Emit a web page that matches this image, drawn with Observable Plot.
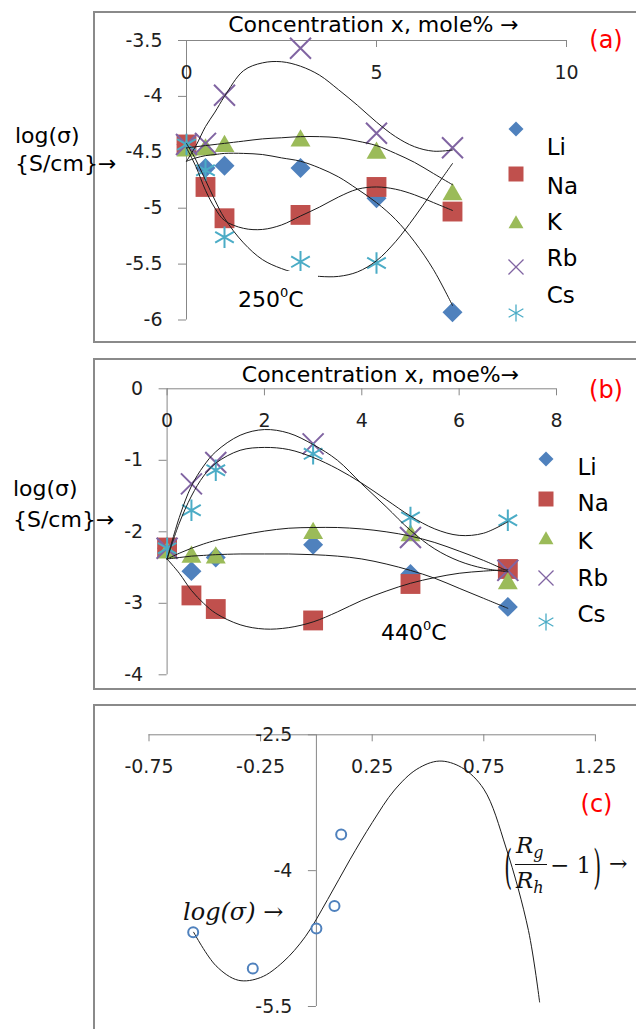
<!DOCTYPE html>
<html><head><meta charset="utf-8">
<script src="https://cdn.jsdelivr.net/npm/d3@7"></script>
<script src="https://cdn.jsdelivr.net/npm/@observablehq/plot@0.6"></script>
<style>
html,body{margin:0;padding:0;background:#fff;}
#root{position:relative;width:636px;height:1029px;overflow:hidden;font-family:"DejaVu Sans",sans-serif;color:#000;}
.frame{position:absolute;border:2px solid #8a8a8a;box-sizing:border-box;}
.t{position:absolute;white-space:nowrap;line-height:1;}
.mk{position:absolute;overflow:visible;}
</style></head><body><div id="root"></div>
<script>
// ---------- series ----------
const seriesNames = ["Li","Na","K","Rb","Cs"];
const seriesColors = ["#4F81BD","#C0504D","#9BBB59","#8064A2","#4BACC6"];
const seriesSymbols = ["diamond2","square","triangle","times","asterisk"];

// ---------- panel (a) 250 C ----------
const concA = [0, 0.5, 1, 3, 5, 7];
const liA = [-4.43, -4.64, -4.62, -4.64, -4.91, -5.93];
const naA = [-4.43, -4.81, -5.09, -5.06, -4.81, -5.03];
const kA  = [-4.46, -4.45, -4.42, -4.37, -4.48, -4.85];
const rbA = [-4.43, -4.42, -3.99, -3.57, -4.33, -4.46];
const csA = [-4.43, -4.66, -5.26, -5.48, -5.49, null];
const trendXA = [0, 0.25, 0.5, 0.75, 1, 1.5, 2, 2.5, 3, 3.5, 4, 4.5, 5, 5.5, 6, 6.5, 7];
const liTrendA = [-4.58,-4.55,-4.53,-4.52,-4.51,-4.51,-4.52,-4.55,-4.58,-4.64,-4.72,-4.83,-4.95,-5.10,-5.30,-5.55,-5.87];
const naTrendA = [-4.46,-4.63,-4.84,-5.00,-5.11,-5.18,-5.19,-5.15,-5.07,-4.99,-4.90,-4.83,-4.81,-4.83,-4.88,-4.95,-5.02];
const kTrendA  = [-4.46,-4.45,-4.44,-4.43,-4.42,-4.40,-4.38,-4.37,-4.36,-4.36,-4.37,-4.40,-4.44,-4.51,-4.59,-4.69,-4.79];
const rbTrendA = [-4.58,-4.44,-4.27,-4.14,-4.00,-3.77,-3.70,-3.69,-3.73,-3.81,-3.94,-4.08,-4.23,-4.36,-4.45,-4.49,-4.48];
const csTrendA = [-4.42,-4.57,-4.75,-4.93,-5.09,-5.31,-5.46,-5.54,-5.59,-5.61,-5.61,-5.57,-5.47,-5.30,-5.08,-4.84,-4.60];
const xTicksA = [0, 5, 10];
const yTicksA = [-3.5, -4, -4.5, -5, -5.5, -6];

// ---------- panel (b) 440 C ----------
const concB = [0, 0.5, 1, 3, 5, 7];
const liB = [-2.23, -2.55, -2.36, -2.18, -2.59, -3.05];
const naB = [-2.22, -2.89, -3.08, -3.24, -2.73, -2.52];
const kB  = [-2.25, -2.31, -2.32, -1.98, -2.01, -2.68];
const rbB = [-2.23, -1.33, -1.03, -0.77, -2.08, -2.54];
const csB = [-2.23, -1.70, -1.14, -0.91, -1.80, -1.84];
const trendXB = [0, 0.25, 0.5, 0.75, 1, 1.5, 2, 2.5, 3, 3.5, 4, 4.5, 5, 5.5, 6, 6.5, 7];
const liTrendB = [-2.38,-2.36,-2.34,-2.33,-2.32,-2.31,-2.31,-2.31,-2.32,-2.34,-2.38,-2.45,-2.54,-2.65,-2.79,-2.93,-3.07];
const naTrendB = [-2.38,-2.58,-2.82,-3.00,-3.14,-3.30,-3.36,-3.34,-3.26,-3.12,-2.96,-2.83,-2.72,-2.64,-2.58,-2.55,-2.53];
const kTrendB  = [-2.38,-2.30,-2.23,-2.17,-2.12,-2.05,-1.99,-1.95,-1.94,-1.94,-1.96,-2.00,-2.06,-2.15,-2.27,-2.40,-2.55];
const rbTrendB = [-2.38,-1.80,-1.36,-1.08,-0.88,-0.65,-0.57,-0.62,-0.78,-1.00,-1.33,-1.65,-1.98,-2.24,-2.41,-2.51,-2.56];
const csTrendB = [-2.38,-1.88,-1.50,-1.22,-1.04,-0.86,-0.82,-0.85,-0.96,-1.12,-1.32,-1.55,-1.78,-1.96,-2.05,-2.02,-1.86];
const xTicksB = [0, 2, 4, 6, 8];
const yTicksB = [0, -1, -2, -3, -4];

// ---------- panel (c) ----------
const ratioC = [-0.552, -0.285, 0.0, 0.081, 0.111];
const logSigmaC = [-4.68, -5.08, -4.64, -4.39, -3.60];
const trendXC = [-0.55,-0.45,-0.35,-0.25,-0.15,-0.05,0.05,0.15,0.25,0.35,0.45,0.55,0.65,0.75,0.85,0.95,1.0];
const trendC  = [-4.68,-5.05,-5.21,-5.18,-5.01,-4.73,-4.32,-3.88,-3.47,-3.11,-2.88,-2.79,-2.86,-3.10,-3.75,-4.66,-5.45];
const xTicksC = [-0.75, -0.25, 0.25, 0.75, 1.25];
const yTicksC = [-2.5, -4, -5.5];

// ---------- helpers ----------
const root = document.getElementById("root");
const axisColor = "#878787";
const tickColor = "#1f1f1f";
const markerR = [9.0, 11.2, 7.4, 9.6, 10.2];

function rowsFrom(xs, arrays) {
  return arrays.flatMap((arr, i) => arr.map((v, j) => ({series: seriesNames[i], x: xs[j], y: v})))
               .filter(d => d.y != null);
}
function axisMarks(xTicks, yTicks, yTop) {
  return [
    Plot.ruleY([yTop], {stroke: axisColor, strokeWidth: 1}),
    Plot.ruleX([0], {stroke: axisColor, strokeWidth: 1}),
    Plot.ruleX(xTicks, {x: d => d, y1: () => yTop, y2: () => yTop, insetBottom: -7, stroke: axisColor}),
    Plot.ruleY(yTicks, {y: d => d, x1: () => 0, x2: () => 0, insetLeft: -8, stroke: axisColor}),
    Plot.text(xTicks, {x: d => d, y: () => yTop, text: d => String(d), dy: 32, fontSize: 19, fill: tickColor}),
    Plot.text(yTicks, {x: () => 0, y: d => d, text: d => String(d), textAnchor: "end", dx: -24, fontSize: 19, fill: tickColor})
  ];
}
function seriesMarks(points, trends) {
  const dots = seriesNames.map((name, i) => {
    const stroked = i >= 3;
    return Plot.dot(points.filter(d => d.series === name), {
      x: "x", y: "y", symbol: seriesSymbols[i], r: markerR[i],
      fill: stroked ? "none" : seriesColors[i],
      stroke: stroked ? seriesColors[i] : "none",
      strokeWidth: 2, dy: i === 2 ? 3 : 0
    });
  });
  return [...dots,
    Plot.line(trends, {x: "x", y: "y", z: "series", curve: "catmull-rom", stroke: "#1c1c1c", strokeWidth: 1})];
}
function place(svg, top) {
  svg.style.position = "absolute";
  svg.style.left = "0px";
  svg.style.top = top + "px";
  root.appendChild(svg);
}
function frame(left, top, w, h) {
  const d = document.createElement("div");
  d.className = "frame";
  Object.assign(d.style, {left: left + "px", top: top + "px", width: w + "px", height: h + "px"});
  root.appendChild(d);
}
function txt(html, left, baseline, size, opts = {}) {
  const d = document.createElement("div");
  d.className = "t";
  d.innerHTML = html;
  d.style.fontSize = size + "px";
  d.style.left = left + "px";
  d.style.top = (baseline - 0.846 * size) + "px";
  let tr = opts.center ? "translateX(-50%)" : "";
  if (opts.transform) tr += " " + opts.transform;
  if (tr) d.style.transform = tr;
  Object.assign(d.style, opts.style || {});
  root.appendChild(d);
  return d;
}
const legendSymbols = [d3.symbolDiamond2, d3.symbolSquare, d3.symbolTriangle, d3.symbolTimes, d3.symbolAsterisk];
const legendSizes = [144, 225, 97, 149, 204];
function legend(markX, markYs, textX, textYs) {
  seriesNames.forEach((name, i) => {
    const svg = d3.create("svg").attr("class", "mk").attr("width", 30).attr("height", 30)
      .style("left", (markX - 15) + "px").style("top", (markYs[i] - 15) + "px");
    const p = svg.append("path").attr("transform", `translate(15,${15 + (i === 2 ? 2 : 0)})`)
      .attr("d", d3.symbol(legendSymbols[i], legendSizes[i])());
    if (i >= 3) p.attr("fill", "none").attr("stroke", seriesColors[i]).attr("stroke-width", 1.3);
    else p.attr("fill", seriesColors[i]);
    root.appendChild(svg.node());
    txt(name, textX, textYs[i], 23);
  });
}
const baseStyle = {background: "transparent", fontFamily: '"DejaVu Sans", sans-serif', overflow: "visible"};

// ---------- frames ----------
frame(93, 11, 620, 332);
frame(93, 358, 620, 332);
frame(93, 704, 620, 400);

// ---------- panel (a) ----------
const ptsA = rowsFrom(concA, [liA, naA, kA, rbA, csA]);
const trA = rowsFrom(trendXA, [liTrendA, naTrendA, kTrendA, rbTrendA, csTrendA]);
place(Plot.plot({
  width: 636, height: 345, marginLeft: 186, marginRight: 70, marginTop: 40, marginBottom: 25.5,
  x: {domain: [0, 10], axis: null}, y: {domain: [-6, -3.5], axis: null},
  style: baseStyle,
  marks: [...axisMarks(xTicksA, yTicksA, -3.5), ...seriesMarks(ptsA, trA)]
}), 0);

// ---------- panel (b) ----------
const ptsB = rowsFrom(concB, [liB, naB, kB, rbB, csB]);
const trB = rowsFrom(trendXB, [liTrendB, naTrendB, kTrendB, rbTrendB, csTrendB]);
place(Plot.plot({
  width: 636, height: 345, marginLeft: 166.6, marginRight: 80, marginTop: 38.3, marginBottom: 20.7,
  x: {domain: [0, 8], axis: null}, y: {domain: [-4, 0], axis: null},
  style: baseStyle,
  marks: [...axisMarks(xTicksB, yTicksB, 0), ...seriesMarks(ptsB, trB)]
}), 350);

// ---------- panel (c) ----------
const ptsC = ratioC.map((x, i) => ({x, y: logSigmaC[i]}));
const trC = trendXC.map((x, i) => ({x, y: trendC[i]}));
place(Plot.plot({
  width: 636, height: 331, marginLeft: 148.5, marginRight: 41.1, marginTop: 36.3, marginBottom: 23,
  x: {domain: [-0.75, 1.25], axis: null}, y: {domain: [-5.5, -2.5], axis: null},
  style: baseStyle,
  marks: [
    ...axisMarks(xTicksC, yTicksC, -2.5),
    Plot.line(trC, {x: "x", y: "y", curve: "catmull-rom", stroke: "#1c1c1c", strokeWidth: 1}),
    Plot.dot(ptsC, {x: "x", y: "y", r: 5, fill: "none", stroke: "#4F81BD", strokeWidth: 2})
  ]
}), 698);

// ---------- annotations ----------
const box = document.createElement("div");
Object.assign(box.style, {position: "absolute", left: "240px", top: "271px", width: "78px", height: "44px", background: "#fff"});
root.appendChild(box);
const sup = s => `<span style="font-size:13px;position:relative;top:-10px;">${s}</span>`;
txt(`250${sup("0")}C`, 238, 308, 22);
txt(`440${sup("0")}C`, 381, 641, 22);

// axis titles
txt("Concentration x, mole% →", 373.5, 33, 22, {center: true});
txt("Concentration x, moe%→", 380.5, 383, 22, {center: true});
txt("log(σ)", 15, 144, 22);
txt("{S/cm}→", 15, 172, 22);
txt("log(σ)", 13, 497, 22);
txt("{S/cm}→", 13, 528, 22);

// panel letters
const red = {style: {color: "#ff0000"}, center: true};
txt("(a)", 606, 48.5, 24, red);
txt("(b)", 606, 398.5, 24, red);
txt("(c)", 596.5, 812, 24, red);

// legends
legend(515.7, [129, 173.8, 222, 267, 313.3], 546.7, [155, 194, 230, 266.7, 303.3]);
legend(546, [458.7, 498.7, 538, 577.5, 621.7], 577.5, [475.7, 511.7, 549, 586.7, 622.7]);

// panel (c) math labels
const serif = {fontFamily: '"DejaVu Serif", serif', color: "#111"};
txt("log(σ) →", 183, 920, 24, {style: {...serif, fontStyle: "italic"}});
txt("(", 503, 876, 27, {style: {...serif, transformOrigin: "50% 50%"}, transform: "scale(0.75,1.75)"});
txt(`R<span style="font-size:16px;position:relative;top:5px;">g</span>`, 516, 853, 23, {style: {...serif, fontStyle: "italic"}});
const bar = document.createElement("div");
Object.assign(bar.style, {position: "absolute", left: "515px", top: "864px", width: "32px", height: "1px", background: "#111"});
root.appendChild(bar);
txt(`R<span style="font-size:16px;position:relative;top:5px;">h</span>`, 516, 888, 23, {style: {...serif, fontStyle: "italic"}});
txt("− 1", 550, 873, 23, {style: serif});
txt(")", 592, 876, 27, {style: {...serif, transformOrigin: "50% 50%"}, transform: "scale(0.75,1.75)"});
txt("→", 609, 872, 22, {style: serif});
</script></body></html>
